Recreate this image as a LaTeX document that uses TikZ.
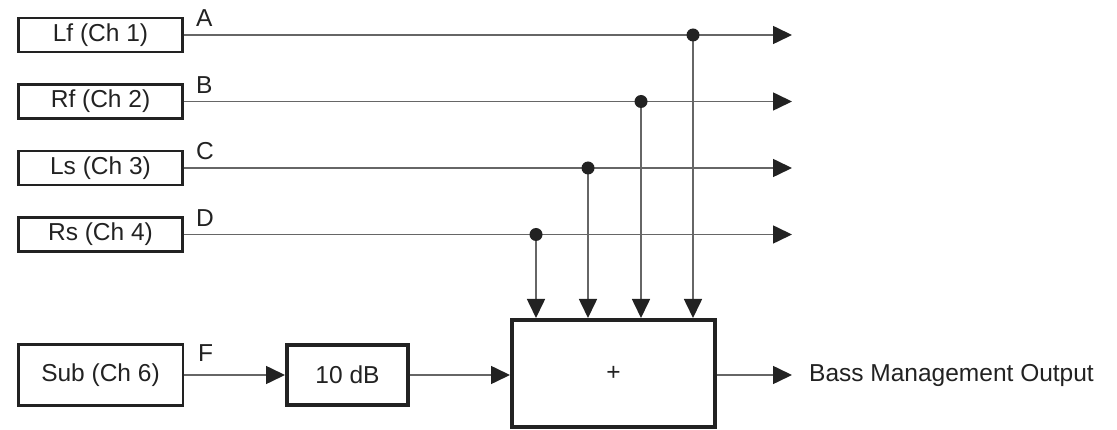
\documentclass[tikz,border=0pt]{standalone}
\usepackage{fontspec}
\setmainfont{Liberation Sans}
\usetikzlibrary{arrows.meta}
\definecolor{wire}{HTML}{666666}
\definecolor{ink}{HTML}{222222}
\tikzset{
  txt/.style={font=\fontsize{24.5}{29}\selectfont, text=ink, inner sep=0pt},
  chbox/.style={txt, draw=ink, line width=2.5pt, minimum width=164pt, minimum height=34pt},
  subbox/.style={txt, draw=ink, line width=2.5pt, minimum width=164.5pt, minimum height=60.5pt},
  thickbox/.style={txt, draw=ink, line width=4pt},
  wirel/.style={draw=wire, line width=1.6pt},
  arr/.style={wirel, -{Triangle[length=19pt, width=18pt, fill=ink, color=ink]}},
  tap/.style={circle, fill=ink, inner sep=0pt, minimum size=13pt},
  lab/.style={txt, anchor=base west}
}
\begin{document}
\begin{tikzpicture}[x=1pt, y=-1pt]
\useasboundingbox (0,0) rectangle (1117,430);
% channel boxes
\node[chbox] (lf) at (100.5,35) {Lf (Ch 1)};
\node[chbox] (rf) at (100.5,101.5) {Rf (Ch 2)};
\node[chbox] (ls) at (100.5,168) {Ls (Ch 3)};
\node[chbox] (rs) at (100.5,234.5) {Rs (Ch 4)};
\node[subbox] (sub) at (100.5,375) {Sub (Ch 6)};
\node[thickbox, minimum width=121pt, minimum height=60pt] (db) at (347.5,375) {10 dB};
\node[thickbox, minimum width=203pt, minimum height=107pt] (sum) at (613.5,373.5) {+};
% labels
\node[lab] (la) at (196,27) {A};
\node[lab] (lb) at (196,93.5) {B};
\node[lab] (lc) at (196,160) {C};
\node[lab] (ld) at (196,226.5) {D};
\node[lab] (lF) at (198,362) {F};
% output ends
\coordinate (oa) at (792,35);
\coordinate (ob) at (792,101.5);
\coordinate (oc) at (792,168);
\coordinate (od) at (792,234.5);
\coordinate (oo) at (792,375);
\node[txt, anchor=west] (out) at (809,375) {Bass Management Output};
% tap points
\coordinate (ta) at (693,35);
\coordinate (tb) at (641,101.5);
\coordinate (tc) at (588,168);
\coordinate (td) at (536,234.5);
% horizontal lines
\draw[arr] (lf.east) -- (oa);
\draw[arr] (rf.east) -- (ob);
\draw[arr] (ls.east) -- (oc);
\draw[arr] (rs.east) -- (od);
% verticals
\draw[arr] (ta) -- (ta |- sum.north);
\draw[arr] (tb) -- (tb |- sum.north);
\draw[arr] (tc) -- (tc |- sum.north);
\draw[arr] (td) -- (td |- sum.north);
% sub path
\draw[arr] (sub.east) -- (sub.east -| db.west);
\draw[arr] (db.east) -- (db.east -| sum.west);
\draw[arr] (sum.east |- oo) -- (oo);
% dots on top
\node[tap] (dota) at (ta) {};
\node[tap] (dotb) at (tb) {};
\node[tap] (dotc) at (tc) {};
\node[tap] (dotd) at (td) {};
\end{tikzpicture}
\end{document}
